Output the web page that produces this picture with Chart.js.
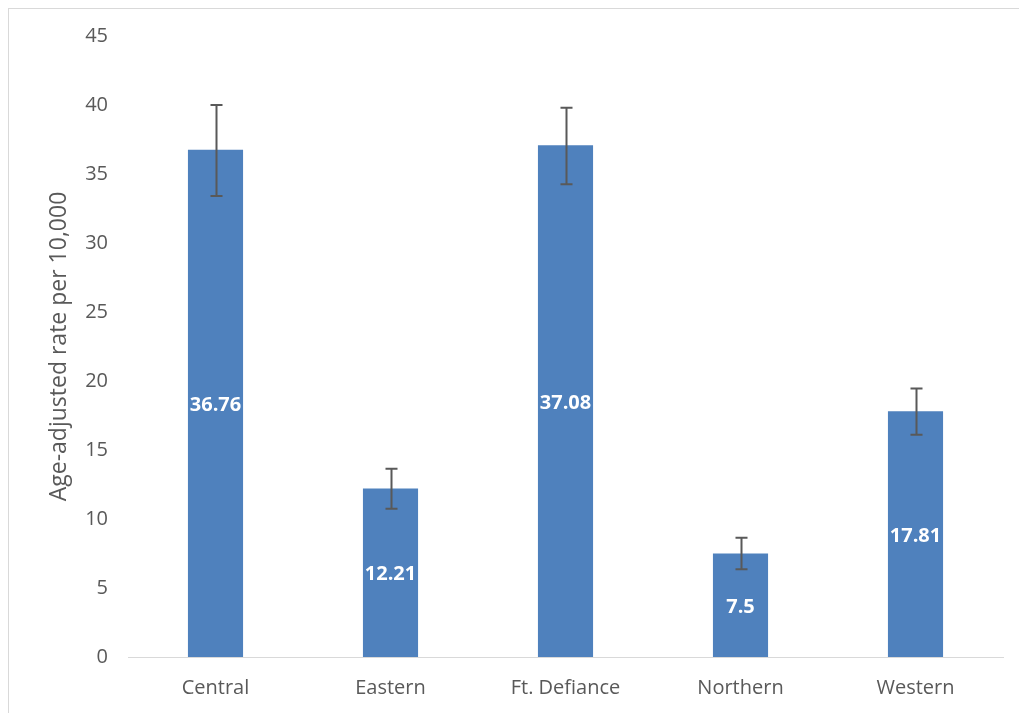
<!DOCTYPE html>
<html>
<head>
<meta charset="utf-8">
<script src="https://cdn.jsdelivr.net/npm/chart.js@4/dist/chart.umd.min.js"></script>
<style>
html,body{margin:0;padding:0;background:#fff;}
#wrap{width:1019px;height:713px;position:relative;}
</style>
</head>
<body>
<div id="wrap"><canvas id="c" width="1019" height="713"></canvas></div>
<script>
const categories = ['Central', 'Eastern', 'Ft. Defiance', 'Northern', 'Western'];
const rates = [36.76, 12.21, 37.08, 7.5, 17.81];
const errLow = [33.4, 10.75, 34.25, 6.35, 16.1];
const errHigh = [40.0, 13.65, 39.8, 8.65, 19.45];
const yTicks = [0, 5, 10, 15, 20, 25, 30, 35, 40, 45];

const FONT = "'Open Sans', 'Liberation Sans', sans-serif";

const borderPlugin = {
  id: 'outerBorder',
  beforeDraw(chart) {
    const ctx = chart.ctx;
    ctx.save();
    ctx.fillStyle = '#ffffff';
    ctx.fillRect(0, 0, chart.width, chart.height);
    ctx.strokeStyle = '#d9d9d9';
    ctx.lineWidth = 1;
    ctx.strokeRect(8.5, 8.5, chart.width + 10, chart.height + 10);
    ctx.restore();
  }
};

const errorBarPlugin = {
  id: 'errorBars',
  afterDatasetsDraw(chart) {
    const ctx = chart.ctx;
    const meta = chart.getDatasetMeta(0);
    const y = chart.scales.y;
    ctx.save();
    ctx.strokeStyle = '#595959';
    ctx.lineWidth = 2;
    meta.data.forEach((bar, i) => {
      const x = Math.round(bar.x) + 0.5;
      const yl = y.getPixelForValue(errLow[i]);
      const yh = y.getPixelForValue(errHigh[i]);
      ctx.beginPath();
      ctx.moveTo(x, yh); ctx.lineTo(x, yl);
      ctx.moveTo(x - 6, yh); ctx.lineTo(x + 6, yh);
      ctx.moveTo(x - 6, yl); ctx.lineTo(x + 6, yl);
      ctx.stroke();
    });
    ctx.restore();
  }
};

const labelPlugin = {
  id: 'barLabels',
  afterDraw(chart) {
    const ctx = chart.ctx;
    const meta = chart.getDatasetMeta(0);
    const y = chart.scales.y;
    ctx.save();
    ctx.fillStyle = '#ffffff';
    ctx.font = "bold 20px " + FONT;
    ctx.textAlign = 'center';
    ctx.textBaseline = 'middle';
    meta.data.forEach((bar, i) => {
      const yc = y.getPixelForValue(rates[i] / 2);
      ctx.fillText(String(rates[i]), bar.x, yc + 2);
    });
    ctx.restore();
  }
};

new Chart(document.getElementById('c'), {
  type: 'bar',
  data: {
    labels: categories,
    datasets: [{
      data: rates,
      backgroundColor: '#4f81bd',
      borderWidth: 0,
      categoryPercentage: 1.0,
      barPercentage: 0.315
    }]
  },
  options: {
    responsive: false,
    animation: false,
    layout: { padding: { left: 0, right: 16, top: 36, bottom: 0 } },
    plugins: { legend: { display: false }, tooltip: { enabled: false } },
    scales: {
      x: {
        grid: { display: false, drawTicks: false },
        border: { display: true, color: '#d9d9d9', width: 1 },
        ticks: { color: '#595959', font: { family: FONT, size: 20 }, padding: 19 },
        afterFit(scale) { scale.height = 56; }
      },
      y: {
        min: 0, max: 45,
        grid: { display: false, drawTicks: false },
        border: { display: false },
        afterBuildTicks(scale) { scale.ticks = yTicks.map(v => ({ value: v })); },
        ticks: { color: '#595959', font: { family: FONT, size: 20 }, padding: 20 },
        title: {
          display: true,
          text: 'Age-adjusted rate per 10,000',
          color: '#595959',
          font: { family: FONT, size: 23 },
          padding: { top: 46, bottom: 0 }
        },
        afterFit(scale) { scale.width = 128; }
      }
    }
  },
  plugins: [borderPlugin, errorBarPlugin, labelPlugin]
});
</script>
</body>
</html>
